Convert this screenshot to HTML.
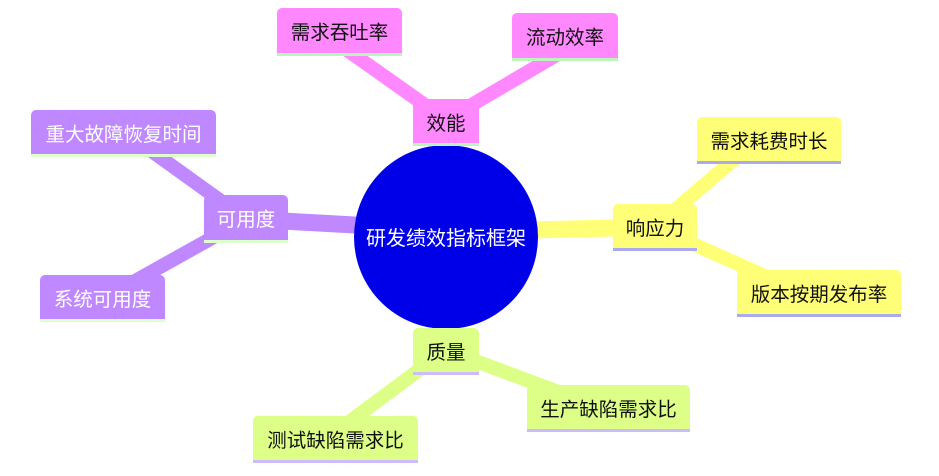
<!DOCTYPE html>
<html><head><meta charset="utf-8"><style>
body{margin:0;width:939px;height:476px;background:#fff;position:relative;overflow:hidden;font-family:"Liberation Sans","Noto Sans CJK SC",sans-serif}
.n{position:absolute;box-sizing:border-box;border-radius:5px 5px 0 0;font-size:19.5px;display:flex;align-items:center;justify-content:center;color:#111}
.p{background:#ff88ff;border-bottom:3px solid #bbf7bb}
.v{background:#c088ff;border-bottom:3px solid #ddffcc;color:#fff}
.y{background:#ffff77;border-bottom:3px solid #aaaaf0}
.g{background:#ddff88;border-bottom:3px solid #ccbbff}
svg{position:absolute;left:0;top:0}
</style></head><body>
<svg width="939" height="476">
<g stroke-linecap="butt">
<line x1="446" y1="237" x2="446" y2="120" stroke="#ff88ff" stroke-width="18"/>
<line x1="446" y1="120" x2="340" y2="45" stroke="#ff88ff" stroke-width="14"/>
<line x1="446" y1="120" x2="565" y2="50" stroke="#ff88ff" stroke-width="14"/>
<line x1="446" y1="230" x2="246" y2="219" stroke="#c088ff" stroke-width="17"/>
<line x1="246" y1="219" x2="150" y2="150" stroke="#c088ff" stroke-width="14"/>
<line x1="246" y1="219" x2="110" y2="295" stroke="#c088ff" stroke-width="14"/>
<line x1="446" y1="232" x2="655" y2="227" stroke="#ffff77" stroke-width="17"/>
<line x1="655" y1="227" x2="745" y2="150" stroke="#ffff77" stroke-width="14"/>
<line x1="655" y1="227" x2="785" y2="285" stroke="#ffff77" stroke-width="14"/>
<line x1="446" y1="237" x2="446" y2="350" stroke="#ddff88" stroke-width="18"/>
<line x1="446" y1="350" x2="345" y2="425" stroke="#ddff88" stroke-width="14"/>
<line x1="446" y1="350" x2="580" y2="400" stroke="#ddff88" stroke-width="14"/>
</g>
<ellipse cx="446" cy="237" rx="92" ry="92" fill="#0000e8"/>
<text x="446" y="245" fill="#fff" font-size="20" text-anchor="middle" font-family="Liberation Sans, Noto Sans CJK SC, sans-serif">研发绩效指标框架</text>
</svg>
<div class="n p" style="left:277px;top:8px;width:125px;height:48px">需求吞吐率</div>
<div class="n p" style="left:512px;top:13px;width:106px;height:48px">流动效率</div>
<div class="n p" style="left:413px;top:99px;width:66px;height:47px">效能</div>
<div class="n v" style="left:31px;top:110px;width:185px;height:47px">重大故障恢复时间</div>
<div class="n v" style="left:204px;top:195px;width:84px;height:48px">可用度</div>
<div class="n v" style="left:40px;top:275px;width:125px;height:47px">系统可用度</div>
<div class="n y" style="left:697px;top:117px;width:144px;height:47px">需求耗费时长</div>
<div class="n y" style="left:613px;top:204px;width:84px;height:47px">响应力</div>
<div class="n y" style="left:737px;top:270px;width:164px;height:47px">版本按期发布率</div>
<div class="n g" style="left:413px;top:328px;width:66px;height:47px">质量</div>
<div class="n g" style="left:527px;top:385px;width:163px;height:47px">生产缺陷需求比</div>
<div class="n g" style="left:253px;top:416px;width:165px;height:47px">测试缺陷需求比</div>
</body></html>
